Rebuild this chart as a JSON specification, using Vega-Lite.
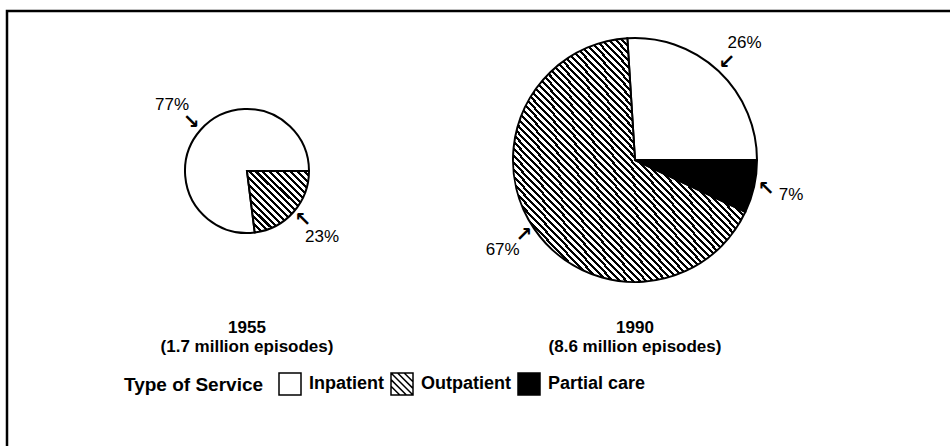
{
  "$schema": "https://vega.github.io/schema/vega-lite/v6.json",
  "autosize": {"type": "none"},
  "width": 943,
  "height": 435,
  "padding": {"left": 7, "top": 11, "right": 0, "bottom": 0},
  "background": "white",
  "config": {
    "view": {"stroke": "black", "strokeWidth": 2.5, "strokeDash": [943, 1378, 435]},
    "font": "Liberation Sans"
  },
  "data": {
    "values": [
      {"year": 1955, "episodes": 1.7, "type": "Inpatient", "share": 0.77, "arrow": "↘"},
      {"year": 1955, "episodes": 1.7, "type": "Outpatient", "share": 0.23, "arrow": "↖"},
      {"year": 1990, "episodes": 8.6, "type": "Inpatient", "share": 0.26, "arrow": "↙"},
      {"year": 1990, "episodes": 8.6, "type": "Outpatient", "share": 0.67, "arrow": "↗"},
      {"year": 1990, "episodes": 8.6, "type": "Partial care", "share": 0.07, "arrow": "↖"}
    ]
  },
  "encoding": {
    "x": {"field": "year", "type": "quantitative", "scale": {"domain": [1955, 1990], "range": [240, 628]}, "axis": null},
    "y": {"field": "year", "type": "quantitative", "scale": {"domain": [1955, 1990], "range": [160, 149]}, "axis": null},
    "theta": {"field": "share", "type": "quantitative", "stack": true, "scale": {"domain": [0, 1], "range": [1.5708, 7.854]}},
    "radius": {"field": "episodes", "type": "quantitative", "scale": {"type": "pow", "exponent": 0.4176, "domain": [0, 8.6], "range": [0, 122]}},
    "order": {"field": "type", "sort": "descending"}
  },
  "layer": [
    {
      "mark": {"type": "arc", "stroke": "black", "strokeWidth": 2},
      "encoding": {
        "color": {
          "field": "type",
          "type": "nominal",
          "scale": {
            "domain": ["Inpatient", "Outpatient", "Partial care"],
            "range": ["white", "white", "black"]
          },
          "condition": [
            {
              "test": "datum.type === 'Outpatient' && datum.year === 1955",
              "value": {"gradient": "linear", "x1": 0, "y1": 1, "x2": 1, "y2": 0, "stops": [
                {"offset": 0, "color": "#000"}, {"offset": 0.025, "color": "#000"}, {"offset": 0.025, "color": "#fff"}, {"offset": 0.05556, "color": "#fff"},
                {"offset": 0.05556, "color": "#000"}, {"offset": 0.08056, "color": "#000"}, {"offset": 0.08056, "color": "#fff"}, {"offset": 0.11111, "color": "#fff"},
                {"offset": 0.11111, "color": "#000"}, {"offset": 0.13611, "color": "#000"}, {"offset": 0.13611, "color": "#fff"}, {"offset": 0.16667, "color": "#fff"},
                {"offset": 0.16667, "color": "#000"}, {"offset": 0.19167, "color": "#000"}, {"offset": 0.19167, "color": "#fff"}, {"offset": 0.22222, "color": "#fff"},
                {"offset": 0.22222, "color": "#000"}, {"offset": 0.24722, "color": "#000"}, {"offset": 0.24722, "color": "#fff"}, {"offset": 0.27778, "color": "#fff"},
                {"offset": 0.27778, "color": "#000"}, {"offset": 0.30278, "color": "#000"}, {"offset": 0.30278, "color": "#fff"}, {"offset": 0.33333, "color": "#fff"},
                {"offset": 0.33333, "color": "#000"}, {"offset": 0.35833, "color": "#000"}, {"offset": 0.35833, "color": "#fff"}, {"offset": 0.38889, "color": "#fff"},
                {"offset": 0.38889, "color": "#000"}, {"offset": 0.41389, "color": "#000"}, {"offset": 0.41389, "color": "#fff"}, {"offset": 0.44444, "color": "#fff"},
                {"offset": 0.44444, "color": "#000"}, {"offset": 0.46944, "color": "#000"}, {"offset": 0.46944, "color": "#fff"}, {"offset": 0.5, "color": "#fff"},
                {"offset": 0.5, "color": "#000"}, {"offset": 0.525, "color": "#000"}, {"offset": 0.525, "color": "#fff"}, {"offset": 0.55556, "color": "#fff"},
                {"offset": 0.55556, "color": "#000"}, {"offset": 0.58056, "color": "#000"}, {"offset": 0.58056, "color": "#fff"}, {"offset": 0.61111, "color": "#fff"},
                {"offset": 0.61111, "color": "#000"}, {"offset": 0.63611, "color": "#000"}, {"offset": 0.63611, "color": "#fff"}, {"offset": 0.66667, "color": "#fff"},
                {"offset": 0.66667, "color": "#000"}, {"offset": 0.69167, "color": "#000"}, {"offset": 0.69167, "color": "#fff"}, {"offset": 0.72222, "color": "#fff"},
                {"offset": 0.72222, "color": "#000"}, {"offset": 0.74722, "color": "#000"}, {"offset": 0.74722, "color": "#fff"}, {"offset": 0.77778, "color": "#fff"},
                {"offset": 0.77778, "color": "#000"}, {"offset": 0.80278, "color": "#000"}, {"offset": 0.80278, "color": "#fff"}, {"offset": 0.83333, "color": "#fff"},
                {"offset": 0.83333, "color": "#000"}, {"offset": 0.85833, "color": "#000"}, {"offset": 0.85833, "color": "#fff"}, {"offset": 0.88889, "color": "#fff"},
                {"offset": 0.88889, "color": "#000"}, {"offset": 0.91389, "color": "#000"}, {"offset": 0.91389, "color": "#fff"}, {"offset": 0.94444, "color": "#fff"},
                {"offset": 0.94444, "color": "#000"}, {"offset": 0.96944, "color": "#000"}, {"offset": 0.96944, "color": "#fff"}, {"offset": 1, "color": "#fff"}
              ]}
            },
            {
              "test": "datum.type === 'Outpatient' && datum.year === 1990",
              "value": {"gradient": "linear", "x1": 0, "y1": 1, "x2": 1, "y2": 0, "stops": [
                {"offset": 0, "color": "#000"}, {"offset": 0.00643, "color": "#000"}, {"offset": 0.00643, "color": "#fff"}, {"offset": 0.01429, "color": "#fff"},
                {"offset": 0.01429, "color": "#000"}, {"offset": 0.02072, "color": "#000"}, {"offset": 0.02072, "color": "#fff"}, {"offset": 0.02857, "color": "#fff"},
                {"offset": 0.02857, "color": "#000"}, {"offset": 0.035, "color": "#000"}, {"offset": 0.035, "color": "#fff"}, {"offset": 0.04286, "color": "#fff"},
                {"offset": 0.04286, "color": "#000"}, {"offset": 0.04929, "color": "#000"}, {"offset": 0.04929, "color": "#fff"}, {"offset": 0.05714, "color": "#fff"},
                {"offset": 0.05714, "color": "#000"}, {"offset": 0.06357, "color": "#000"}, {"offset": 0.06357, "color": "#fff"}, {"offset": 0.07143, "color": "#fff"},
                {"offset": 0.07143, "color": "#000"}, {"offset": 0.07786, "color": "#000"}, {"offset": 0.07786, "color": "#fff"}, {"offset": 0.08571, "color": "#fff"},
                {"offset": 0.08571, "color": "#000"}, {"offset": 0.09214, "color": "#000"}, {"offset": 0.09214, "color": "#fff"}, {"offset": 0.1, "color": "#fff"},
                {"offset": 0.1, "color": "#000"}, {"offset": 0.10643, "color": "#000"}, {"offset": 0.10643, "color": "#fff"}, {"offset": 0.11429, "color": "#fff"},
                {"offset": 0.11429, "color": "#000"}, {"offset": 0.12072, "color": "#000"}, {"offset": 0.12072, "color": "#fff"}, {"offset": 0.12857, "color": "#fff"},
                {"offset": 0.12857, "color": "#000"}, {"offset": 0.135, "color": "#000"}, {"offset": 0.135, "color": "#fff"}, {"offset": 0.14286, "color": "#fff"},
                {"offset": 0.14286, "color": "#000"}, {"offset": 0.14929, "color": "#000"}, {"offset": 0.14929, "color": "#fff"}, {"offset": 0.15714, "color": "#fff"},
                {"offset": 0.15714, "color": "#000"}, {"offset": 0.16357, "color": "#000"}, {"offset": 0.16357, "color": "#fff"}, {"offset": 0.17143, "color": "#fff"},
                {"offset": 0.17143, "color": "#000"}, {"offset": 0.17786, "color": "#000"}, {"offset": 0.17786, "color": "#fff"}, {"offset": 0.18571, "color": "#fff"},
                {"offset": 0.18571, "color": "#000"}, {"offset": 0.19214, "color": "#000"}, {"offset": 0.19214, "color": "#fff"}, {"offset": 0.2, "color": "#fff"},
                {"offset": 0.2, "color": "#000"}, {"offset": 0.20643, "color": "#000"}, {"offset": 0.20643, "color": "#fff"}, {"offset": 0.21429, "color": "#fff"},
                {"offset": 0.21429, "color": "#000"}, {"offset": 0.22072, "color": "#000"}, {"offset": 0.22072, "color": "#fff"}, {"offset": 0.22857, "color": "#fff"},
                {"offset": 0.22857, "color": "#000"}, {"offset": 0.235, "color": "#000"}, {"offset": 0.235, "color": "#fff"}, {"offset": 0.24286, "color": "#fff"},
                {"offset": 0.24286, "color": "#000"}, {"offset": 0.24929, "color": "#000"}, {"offset": 0.24929, "color": "#fff"}, {"offset": 0.25714, "color": "#fff"},
                {"offset": 0.25714, "color": "#000"}, {"offset": 0.26357, "color": "#000"}, {"offset": 0.26357, "color": "#fff"}, {"offset": 0.27143, "color": "#fff"},
                {"offset": 0.27143, "color": "#000"}, {"offset": 0.27786, "color": "#000"}, {"offset": 0.27786, "color": "#fff"}, {"offset": 0.28571, "color": "#fff"},
                {"offset": 0.28571, "color": "#000"}, {"offset": 0.29214, "color": "#000"}, {"offset": 0.29214, "color": "#fff"}, {"offset": 0.3, "color": "#fff"},
                {"offset": 0.3, "color": "#000"}, {"offset": 0.30643, "color": "#000"}, {"offset": 0.30643, "color": "#fff"}, {"offset": 0.31429, "color": "#fff"},
                {"offset": 0.31429, "color": "#000"}, {"offset": 0.32072, "color": "#000"}, {"offset": 0.32072, "color": "#fff"}, {"offset": 0.32857, "color": "#fff"},
                {"offset": 0.32857, "color": "#000"}, {"offset": 0.335, "color": "#000"}, {"offset": 0.335, "color": "#fff"}, {"offset": 0.34286, "color": "#fff"},
                {"offset": 0.34286, "color": "#000"}, {"offset": 0.34929, "color": "#000"}, {"offset": 0.34929, "color": "#fff"}, {"offset": 0.35714, "color": "#fff"},
                {"offset": 0.35714, "color": "#000"}, {"offset": 0.36357, "color": "#000"}, {"offset": 0.36357, "color": "#fff"}, {"offset": 0.37143, "color": "#fff"},
                {"offset": 0.37143, "color": "#000"}, {"offset": 0.37786, "color": "#000"}, {"offset": 0.37786, "color": "#fff"}, {"offset": 0.38571, "color": "#fff"},
                {"offset": 0.38571, "color": "#000"}, {"offset": 0.39214, "color": "#000"}, {"offset": 0.39214, "color": "#fff"}, {"offset": 0.4, "color": "#fff"},
                {"offset": 0.4, "color": "#000"}, {"offset": 0.40643, "color": "#000"}, {"offset": 0.40643, "color": "#fff"}, {"offset": 0.41429, "color": "#fff"},
                {"offset": 0.41429, "color": "#000"}, {"offset": 0.42072, "color": "#000"}, {"offset": 0.42072, "color": "#fff"}, {"offset": 0.42857, "color": "#fff"},
                {"offset": 0.42857, "color": "#000"}, {"offset": 0.435, "color": "#000"}, {"offset": 0.435, "color": "#fff"}, {"offset": 0.44286, "color": "#fff"},
                {"offset": 0.44286, "color": "#000"}, {"offset": 0.44929, "color": "#000"}, {"offset": 0.44929, "color": "#fff"}, {"offset": 0.45714, "color": "#fff"},
                {"offset": 0.45714, "color": "#000"}, {"offset": 0.46357, "color": "#000"}, {"offset": 0.46357, "color": "#fff"}, {"offset": 0.47143, "color": "#fff"},
                {"offset": 0.47143, "color": "#000"}, {"offset": 0.47786, "color": "#000"}, {"offset": 0.47786, "color": "#fff"}, {"offset": 0.48571, "color": "#fff"},
                {"offset": 0.48571, "color": "#000"}, {"offset": 0.49214, "color": "#000"}, {"offset": 0.49214, "color": "#fff"}, {"offset": 0.5, "color": "#fff"},
                {"offset": 0.5, "color": "#000"}, {"offset": 0.50643, "color": "#000"}, {"offset": 0.50643, "color": "#fff"}, {"offset": 0.51429, "color": "#fff"},
                {"offset": 0.51429, "color": "#000"}, {"offset": 0.52072, "color": "#000"}, {"offset": 0.52072, "color": "#fff"}, {"offset": 0.52857, "color": "#fff"},
                {"offset": 0.52857, "color": "#000"}, {"offset": 0.535, "color": "#000"}, {"offset": 0.535, "color": "#fff"}, {"offset": 0.54286, "color": "#fff"},
                {"offset": 0.54286, "color": "#000"}, {"offset": 0.54929, "color": "#000"}, {"offset": 0.54929, "color": "#fff"}, {"offset": 0.55714, "color": "#fff"},
                {"offset": 0.55714, "color": "#000"}, {"offset": 0.56357, "color": "#000"}, {"offset": 0.56357, "color": "#fff"}, {"offset": 0.57143, "color": "#fff"},
                {"offset": 0.57143, "color": "#000"}, {"offset": 0.57786, "color": "#000"}, {"offset": 0.57786, "color": "#fff"}, {"offset": 0.58571, "color": "#fff"},
                {"offset": 0.58571, "color": "#000"}, {"offset": 0.59214, "color": "#000"}, {"offset": 0.59214, "color": "#fff"}, {"offset": 0.6, "color": "#fff"},
                {"offset": 0.6, "color": "#000"}, {"offset": 0.60643, "color": "#000"}, {"offset": 0.60643, "color": "#fff"}, {"offset": 0.61429, "color": "#fff"},
                {"offset": 0.61429, "color": "#000"}, {"offset": 0.62072, "color": "#000"}, {"offset": 0.62072, "color": "#fff"}, {"offset": 0.62857, "color": "#fff"},
                {"offset": 0.62857, "color": "#000"}, {"offset": 0.635, "color": "#000"}, {"offset": 0.635, "color": "#fff"}, {"offset": 0.64286, "color": "#fff"},
                {"offset": 0.64286, "color": "#000"}, {"offset": 0.64929, "color": "#000"}, {"offset": 0.64929, "color": "#fff"}, {"offset": 0.65714, "color": "#fff"},
                {"offset": 0.65714, "color": "#000"}, {"offset": 0.66357, "color": "#000"}, {"offset": 0.66357, "color": "#fff"}, {"offset": 0.67143, "color": "#fff"},
                {"offset": 0.67143, "color": "#000"}, {"offset": 0.67786, "color": "#000"}, {"offset": 0.67786, "color": "#fff"}, {"offset": 0.68571, "color": "#fff"},
                {"offset": 0.68571, "color": "#000"}, {"offset": 0.69214, "color": "#000"}, {"offset": 0.69214, "color": "#fff"}, {"offset": 0.7, "color": "#fff"},
                {"offset": 0.7, "color": "#000"}, {"offset": 0.70643, "color": "#000"}, {"offset": 0.70643, "color": "#fff"}, {"offset": 0.71429, "color": "#fff"},
                {"offset": 0.71429, "color": "#000"}, {"offset": 0.72072, "color": "#000"}, {"offset": 0.72072, "color": "#fff"}, {"offset": 0.72857, "color": "#fff"},
                {"offset": 0.72857, "color": "#000"}, {"offset": 0.735, "color": "#000"}, {"offset": 0.735, "color": "#fff"}, {"offset": 0.74286, "color": "#fff"},
                {"offset": 0.74286, "color": "#000"}, {"offset": 0.74929, "color": "#000"}, {"offset": 0.74929, "color": "#fff"}, {"offset": 0.75714, "color": "#fff"},
                {"offset": 0.75714, "color": "#000"}, {"offset": 0.76357, "color": "#000"}, {"offset": 0.76357, "color": "#fff"}, {"offset": 0.77143, "color": "#fff"},
                {"offset": 0.77143, "color": "#000"}, {"offset": 0.77786, "color": "#000"}, {"offset": 0.77786, "color": "#fff"}, {"offset": 0.78571, "color": "#fff"},
                {"offset": 0.78571, "color": "#000"}, {"offset": 0.79214, "color": "#000"}, {"offset": 0.79214, "color": "#fff"}, {"offset": 0.8, "color": "#fff"},
                {"offset": 0.8, "color": "#000"}, {"offset": 0.80643, "color": "#000"}, {"offset": 0.80643, "color": "#fff"}, {"offset": 0.81429, "color": "#fff"},
                {"offset": 0.81429, "color": "#000"}, {"offset": 0.82072, "color": "#000"}, {"offset": 0.82072, "color": "#fff"}, {"offset": 0.82857, "color": "#fff"},
                {"offset": 0.82857, "color": "#000"}, {"offset": 0.835, "color": "#000"}, {"offset": 0.835, "color": "#fff"}, {"offset": 0.84286, "color": "#fff"},
                {"offset": 0.84286, "color": "#000"}, {"offset": 0.84929, "color": "#000"}, {"offset": 0.84929, "color": "#fff"}, {"offset": 0.85714, "color": "#fff"},
                {"offset": 0.85714, "color": "#000"}, {"offset": 0.86357, "color": "#000"}, {"offset": 0.86357, "color": "#fff"}, {"offset": 0.87143, "color": "#fff"},
                {"offset": 0.87143, "color": "#000"}, {"offset": 0.87786, "color": "#000"}, {"offset": 0.87786, "color": "#fff"}, {"offset": 0.88571, "color": "#fff"},
                {"offset": 0.88571, "color": "#000"}, {"offset": 0.89214, "color": "#000"}, {"offset": 0.89214, "color": "#fff"}, {"offset": 0.9, "color": "#fff"},
                {"offset": 0.9, "color": "#000"}, {"offset": 0.90643, "color": "#000"}, {"offset": 0.90643, "color": "#fff"}, {"offset": 0.91429, "color": "#fff"},
                {"offset": 0.91429, "color": "#000"}, {"offset": 0.92072, "color": "#000"}, {"offset": 0.92072, "color": "#fff"}, {"offset": 0.92857, "color": "#fff"},
                {"offset": 0.92857, "color": "#000"}, {"offset": 0.935, "color": "#000"}, {"offset": 0.935, "color": "#fff"}, {"offset": 0.94286, "color": "#fff"},
                {"offset": 0.94286, "color": "#000"}, {"offset": 0.94929, "color": "#000"}, {"offset": 0.94929, "color": "#fff"}, {"offset": 0.95714, "color": "#fff"},
                {"offset": 0.95714, "color": "#000"}, {"offset": 0.96357, "color": "#000"}, {"offset": 0.96357, "color": "#fff"}, {"offset": 0.97143, "color": "#fff"},
                {"offset": 0.97143, "color": "#000"}, {"offset": 0.97786, "color": "#000"}, {"offset": 0.97786, "color": "#fff"}, {"offset": 0.98571, "color": "#fff"},
                {"offset": 0.98571, "color": "#000"}, {"offset": 0.99214, "color": "#000"}, {"offset": 0.99214, "color": "#fff"}, {"offset": 1, "color": "#fff"}
              ]}
            }
          ],
          "legend": {
            "orient": "none",
            "legendX": 117,
            "legendY": 361,
            "direction": "horizontal",
            "title": "Type of Service",
            "titleOrient": "left",
            "titleFont": "Liberation Sans",
            "titleFontSize": 19,
            "titleFontWeight": "bold",
            "titleColor": "black",
            "titlePadding": 14,
            "titleBaseline": "middle",
            "labelFont": "Liberation Sans",
            "labelFontSize": 18,
            "labelFontWeight": "bold",
            "labelColor": "black",
            "labelOffset": 7,
            "symbolType": "square",
            "symbolSize": 484,
            "symbolStrokeColor": "black",
            "symbolStrokeWidth": 1.5,
            "symbolOpacity": 1,
            "columnPadding": 4,
            "encoding": {
              "symbols": {
                "stroke": {"value": "black"},
                "strokeWidth": {"value": 1.5},
                "shape": {
                  "condition": {
                    "test": "datum.value === 'Outpatient'",
                    "value": "M-1,-1H1V1H-1Z M0.2,-1L1,-0.2 M-0.4,-1L1,0.4 M-1,-1L1,1 M-1,-0.4L0.4,1 M-1,0.2L-0.2,1"
                  },
                  "value": "square"
                }
              }
            }
          }
        }
      }
    },
    {
      "mark": {"type": "text", "radiusOffset": 38, "font": "Liberation Sans", "fontSize": 17, "color": "black"},
      "encoding": {
        "text": {"field": "share", "type": "quantitative", "format": ".0%"}
      }
    },
    {
      "mark": {"type": "text", "radiusOffset": 12, "font": "DejaVu Sans", "fontSize": 20, "fontWeight": "bold", "color": "black"},
      "encoding": {
        "text": {"field": "arrow", "type": "nominal"}
      }
    },
    {
      "data": {"values": [
        {"year": 1955, "caption": "(1.7 million episodes)"},
        {"year": 1990, "caption": "(8.6 million episodes)"}
      ]},
      "mark": {"type": "text", "font": "Liberation Sans", "fontSize": 17, "fontWeight": "bold", "color": "black", "dy": 99},
      "encoding": {
        "x": {"field": "year", "type": "quantitative"},
        "y": null,
        "theta": null,
        "radius": null,
        "order": null,
        "text": {"field": "year", "type": "nominal"}
      }
    },
    {
      "data": {"values": [
        {"year": 1955, "caption": "(1.7 million episodes)"},
        {"year": 1990, "caption": "(8.6 million episodes)"}
      ]},
      "mark": {"type": "text", "font": "Liberation Sans", "fontSize": 17, "fontWeight": "bold", "color": "black", "dy": 118},
      "encoding": {
        "x": {"field": "year", "type": "quantitative"},
        "y": null,
        "theta": null,
        "radius": null,
        "order": null,
        "text": {"field": "caption", "type": "nominal"}
      }
    }
  ]
}
